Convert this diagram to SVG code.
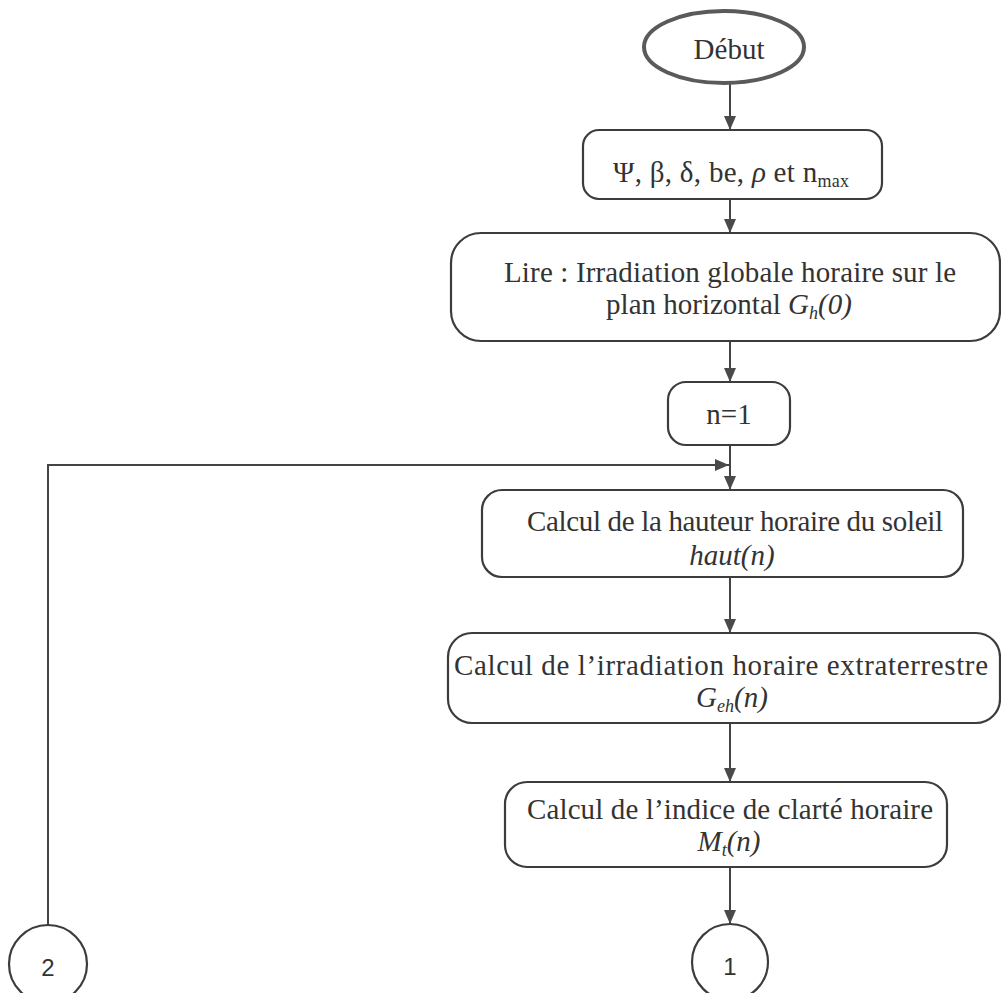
<svg xmlns="http://www.w3.org/2000/svg" width="1001" height="993" viewBox="0 0 1001 993">
  <style>
    .shape { fill: #ffffff; stroke: #3c3c3c; stroke-width: 2.2; }
    .start { fill: #ffffff; stroke: #5a5a5a; stroke-width: 4; }
    .wire { fill: none; stroke: #444444; stroke-width: 2; }
    .lbl { font-family: "Liberation Serif", "Times New Roman", serif; font-size: 29px; fill: #333333; text-anchor: middle; }
    .it { font-style: italic; }
    .sub { font-size: 18px; }
    .num { font-family: "Liberation Sans", Arial, sans-serif; font-size: 24px; fill: #333333; text-anchor: middle; }
  </style>
  <defs>
    <marker id="arrow" markerUnits="userSpaceOnUse" markerWidth="14" markerHeight="14" viewBox="0 0 14 14" refX="14" refY="7" orient="auto">
      <path d="M0,1 L14,7 L0,13 Z" fill="#4a4a4a"/>
    </marker>
  </defs>

  <rect width="1001" height="993" fill="#ffffff"/>

  <!-- connectors -->
  <g id="connectors">
    <line class="wire" x1="730" y1="83" x2="730" y2="130" marker-end="url(#arrow)"/>
    <line class="wire" x1="730" y1="199" x2="730" y2="233" marker-end="url(#arrow)"/>
    <line class="wire" x1="730" y1="341" x2="730" y2="382" marker-end="url(#arrow)"/>
    <line class="wire" x1="730" y1="445" x2="730" y2="490" marker-end="url(#arrow)"/>
    <polyline class="wire" points="48,925 48,465 729,465" marker-end="url(#arrow)"/>
    <line class="wire" x1="730" y1="577" x2="730" y2="633" marker-end="url(#arrow)"/>
    <line class="wire" x1="730" y1="723" x2="730" y2="782" marker-end="url(#arrow)"/>
    <line class="wire" x1="730" y1="867" x2="730" y2="924" marker-end="url(#arrow)"/>
  </g>

  <!-- start terminal -->
  <g id="debut">
    <ellipse class="start" cx="724" cy="47" rx="80" ry="36"/>
    <text class="lbl" x="729" y="59">Début</text>
  </g>

  <!-- input parameters -->
  <g id="parametres">
    <rect class="shape" x="583" y="130" width="299" height="69" rx="16"/>
    <text class="lbl" x="731" y="182" textLength="236" lengthAdjust="spacing">Ψ, β, δ, be, <tspan class="it">ρ</tspan> et n<tspan class="sub" dy="5">max</tspan></text>
  </g>

  <!-- read horizontal irradiation -->
  <g id="lire">
    <rect class="shape" x="451" y="233" width="549" height="108" rx="30"/>
    <text class="lbl" x="730" y="282" textLength="452" lengthAdjust="spacing">Lire : Irradiation globale horaire sur le</text>
    <text class="lbl" x="729" y="314">plan horizontal <tspan class="it">G<tspan class="sub" dy="5">h</tspan><tspan dy="-5">(0)</tspan></tspan></text>
  </g>

  <!-- loop init -->
  <g id="init-n">
    <rect class="shape" x="668" y="382" width="122" height="63" rx="18"/>
    <text class="lbl" x="729" y="424">n=1</text>
  </g>

  <!-- sun height -->
  <g id="hauteur">
    <rect class="shape" x="482" y="490" width="481" height="87" rx="20"/>
    <text class="lbl" x="735" y="531" textLength="416" lengthAdjust="spacing">Calcul de la hauteur horaire du soleil</text>
    <text class="lbl it" x="732" y="565">haut(n)</text>
  </g>

  <!-- extraterrestrial irradiation -->
  <g id="extraterrestre">
    <rect class="shape" x="448" y="633" width="552" height="90" rx="24"/>
    <text class="lbl" x="721" y="675" textLength="534" lengthAdjust="spacing">Calcul de l’irradiation horaire extraterrestre</text>
    <text class="lbl it" x="732" y="707">G<tspan class="sub" dy="5">eh</tspan><tspan dy="-5">(n)</tspan></text>
  </g>

  <!-- clearness index -->
  <g id="clarte">
    <rect class="shape" x="505" y="782" width="442" height="85" rx="22"/>
    <text class="lbl" x="730" y="819" textLength="406" lengthAdjust="spacing">Calcul de l’indice de clarté horaire</text>
    <text class="lbl it" x="729" y="851">M<tspan class="sub" dy="5">t</tspan><tspan dy="-5">(n)</tspan></text>
  </g>

  <!-- off-page connectors -->
  <g id="connecteur-1">
    <circle class="shape" cx="730" cy="962" r="38"/>
    <text class="num" x="730" y="975">1</text>
  </g>
  <g id="connecteur-2">
    <circle class="shape" cx="48" cy="964" r="39"/>
    <text class="num" x="48" y="976">2</text>
  </g>
</svg>
